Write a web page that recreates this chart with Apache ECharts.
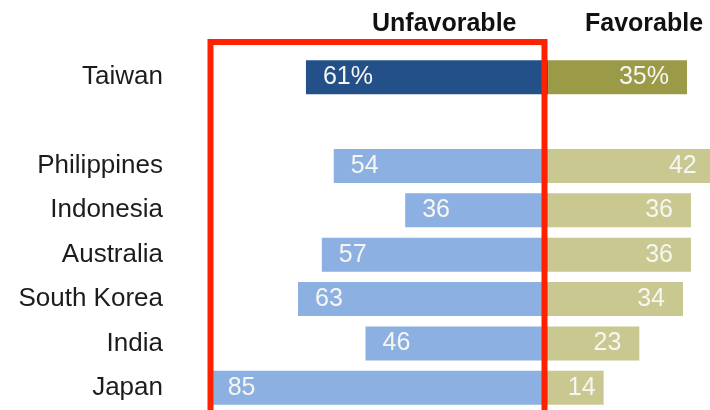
<!DOCTYPE html>
<html>
<head>
<meta charset="utf-8">
<script src="https://cdn.jsdelivr.net/npm/echarts@6/dist/echarts.min.js"></script>
<style>
html,body{margin:0;padding:0;background:#fff;}
#chart{width:710px;height:410px;}
</style>
</head>
<body>
<div id="chart"></div>
<script>
// Data
var categories = ['Taiwan', '', 'Philippines', 'Indonesia', 'Australia', 'South Korea', 'India', 'Japan'];
var unfavorable = [61, null, 54, 36, 57, 63, 46, 85];
var favorable = [35, null, 42, 36, 36, 34, 23, 14];
var headers = ['Unfavorable', 'Favorable'];

var highlightIndex = 0; // Taiwan drawn in darker colours

var chart = echarts.init(document.getElementById('chart'));

function unfavData() {
  return unfavorable.map(function (v, i) {
    if (v === null) return null;
    return {
      value: -v,
      itemStyle: { color: i === highlightIndex ? '#24508a' : '#8db0e2' }
    };
  });
}
function favData() {
  return favorable.map(function (v, i) {
    if (v === null) return null;
    var item = {
      value: v,
      itemStyle: { color: i === highlightIndex ? '#9b9a47' : '#c8c890' }
    };
    if (v < 20) item.label = { distance: 8 };
    return item;
  });
}
function fmt(p) {
  var v = Math.abs(p.value);
  return p.dataIndex === highlightIndex ? v + '%' : String(v);
}

var labelFont = {
  fontFamily: 'Liberation Sans, Arial, sans-serif',
  fontSize: 25,
  color: '#f6f6f2'
};

chart.setOption({
  animation: false,
  backgroundColor: '#ffffff',
  grid: { left: 173, right: 0, top: 55, bottom: -1, containLabel: false },
  xAxis: {
    type: 'value',
    min: -94.5,
    max: 40.8,
    show: false
  },
  yAxis: {
    type: 'category',
    data: categories,
    inverse: true,
    axisLine: { show: false },
    axisTick: { show: false },
    splitLine: { show: false },
    axisLabel: {
      margin: 10,
      fontFamily: 'Liberation Sans, Arial, sans-serif',
      fontSize: 26,
      color: '#1c1c1c'
    }
  },
  series: [
    {
      name: headers[0],
      type: 'bar',
      stack: 'total',
      barWidth: 34,
      clip: false,
      data: unfavData(),
      label: Object.assign({
        show: true,
        position: 'insideLeft',
        distance: 17,
        formatter: fmt
      }, labelFont)
    },
    {
      name: headers[1],
      type: 'bar',
      stack: 'total',
      barWidth: 34,
      clip: false,
      data: favData(),
      label: Object.assign({
        show: true,
        position: 'insideRight',
        distance: 18,
        formatter: fmt
      }, labelFont)
    }
  ],
  graphic: [
    {
      type: 'text',
      left: 372,
      top: 12,
      style: {
        text: headers[0],
        font: 'bold 25px "Liberation Sans", Arial, sans-serif',
        fill: '#111111'
      }
    },
    {
      type: 'text',
      left: 585,
      top: 12,
      style: {
        text: headers[1],
        font: 'bold 25px "Liberation Sans", Arial, sans-serif',
        fill: '#111111'
      }
    },
    {
      type: 'rect',
      z: 100,
      shape: { x: 210.5, y: 42, width: 334, height: 420 },
      style: { fill: 'none', stroke: '#ff2200', lineWidth: 6 }
    }
  ]
});
</script>
</body>
</html>
